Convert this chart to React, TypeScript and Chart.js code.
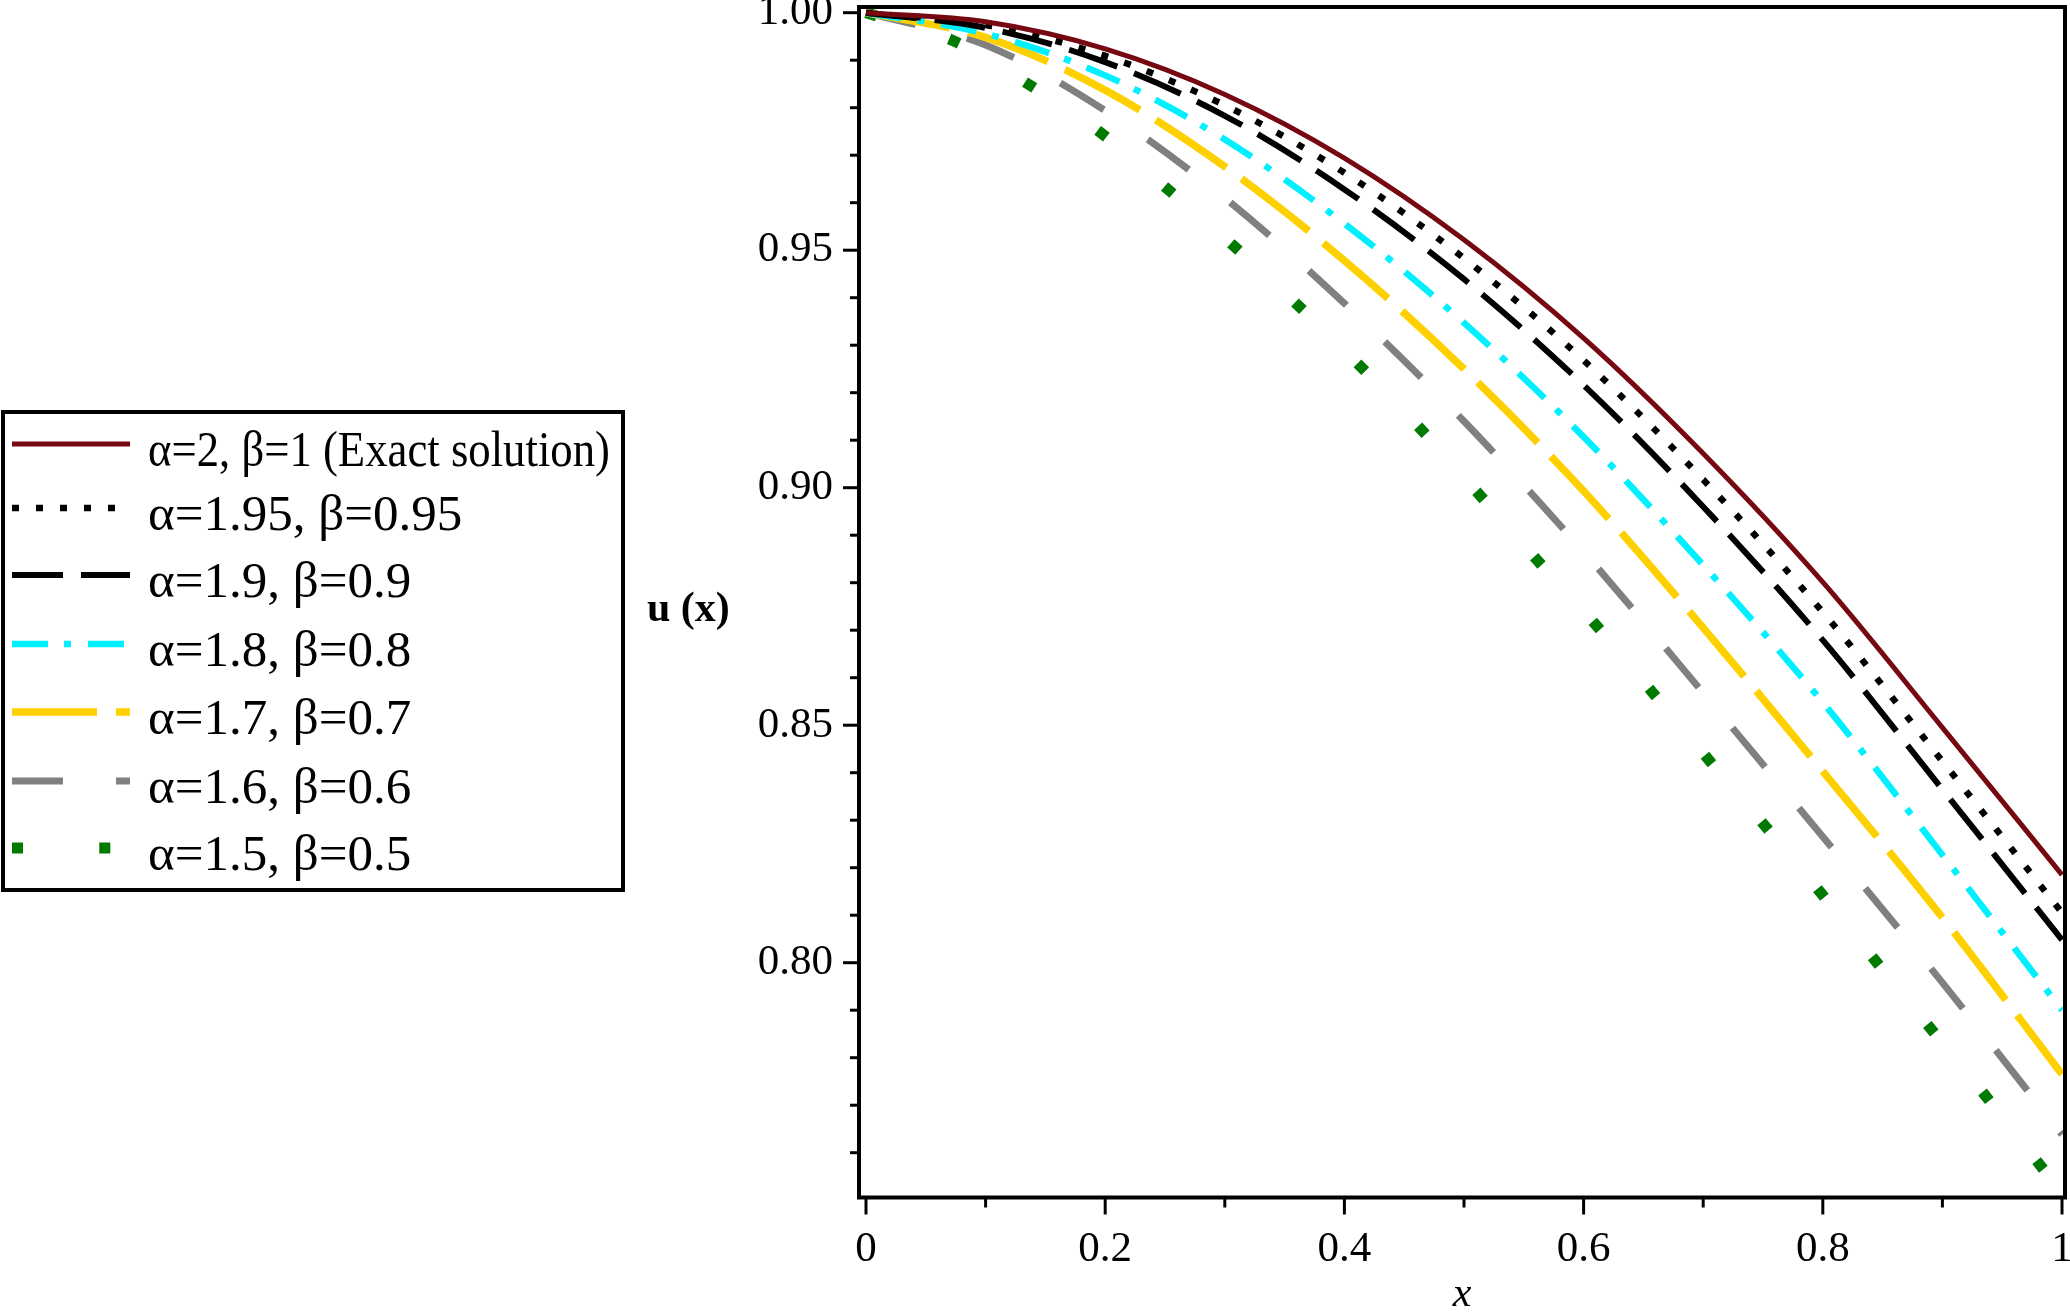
import React, { useEffect, useRef } from "react";
import { Chart, registerables } from "chart.js";

Chart.register(...registerables);

// ---- data ----
const xValues = [0, 0.1, 0.2, 0.3, 0.4, 0.5, 0.6, 0.7, 0.8, 0.9, 1.0];
const uExact = [1.0, 0.9981, 0.9924, 0.9828, 0.9694, 0.9522, 0.9315, 0.9072, 0.8801, 0.8495, 0.8185];
const u195 = [1.0, 0.9974, 0.9909, 0.9805, 0.9663, 0.9483, 0.9268, 0.9017, 0.8738, 0.8424, 0.8105];
const u190 = [1.0, 0.9968, 0.9896, 0.9783, 0.9628, 0.9439, 0.9216, 0.896, 0.8679, 0.8365, 0.8048];
const u180 = [1.0, 0.9956, 0.9868, 0.9733, 0.9556, 0.9347, 0.9107, 0.8837, 0.8548, 0.8227, 0.79];
const u170 = [1.0, 0.9948, 0.9837, 0.9676, 0.9478, 0.925, 0.8993, 0.8705, 0.8403, 0.8095, 0.7765];
const u160 = [1.0, 0.9932, 0.9794, 0.961, 0.9388, 0.914, 0.8865, 0.8568, 0.8265, 0.7958, 0.7638];
const xGreen = [0, 0.073, 0.138, 0.197, 0.252, 0.307, 0.362, 0.414, 0.464, 0.513, 0.561, 0.611, 0.658, 0.706, 0.753, 0.799, 0.845, 0.89, 0.936, 0.982, 1.0];
const u150 = [1.0, 0.9941, 0.9846, 0.9746, 0.9629, 0.951, 0.9382, 0.9254, 0.9123, 0.8985, 0.8848, 0.8709, 0.8568, 0.8423, 0.8284, 0.8145, 0.8001, 0.7862, 0.772, 0.7573, 0.7515];

const seriesLabels = [
  "α=2, β=1 (Exact solution)",
  "α=1.95, β=0.95",
  "α=1.9, β=0.9",
  "α=1.8, β=0.8",
  "α=1.7, β=0.7",
  "α=1.6, β=0.6",
  "α=1.5, β=0.5",
];
const seriesColors = ["#760812", "#000000", "#000000", "#00F0FF", "#FFD000", "#808080", "#007A00"];
const seriesDashes: number[][] = [[], [7, 17], [51, 18], [36, 16, 7, 17], [85, 19], [51, 53], [11, 76.3]];
const seriesWidths = [5, 6.5, 6, 6.5, 7.5, 7, 11];

const yMajorTicks = [0.8, 0.85, 0.9, 0.95, 1.0];
const xMajorTicks = [0, 0.2, 0.4, 0.6, 0.8, 1];

const yTitle = "u (x)";
const xTitle = "x";

const FONT = "'Liberation Serif', 'Times New Roman', serif";

const seriesY = [uExact, u195, u190, u180, u170, u160];

const mapleDecor = {
  id: "mapleDecor",
  afterDraw(chart: any) {
    const ctx = chart.ctx;
    const area = chart.chartArea;
    const xs = chart.scales.x;
    const ys = chart.scales.y;
    ctx.save();
    ctx.setLineDash([]);
    ctx.strokeStyle = "#000";
    // frame
    ctx.lineWidth = 4;
    ctx.strokeRect(area.left, area.top, area.right - area.left, area.bottom - area.top);
    // y ticks
    ctx.lineWidth = 3;
    for (let k = 76; k <= 100; k++) {
      const v = k / 100;
      const py = ys.getPixelForValue(v);
      const major = yMajorTicks.some((t) => Math.abs(t - v) < 1e-9);
      ctx.beginPath();
      ctx.moveTo(area.left, py);
      ctx.lineTo(area.left - (major ? 16 : 9), py);
      ctx.stroke();
    }
    // x ticks
    for (let k = 0; k <= 10; k++) {
      const v = k / 10;
      const px = xs.getPixelForValue(v);
      const major = xMajorTicks.some((t) => Math.abs(t - v) < 1e-9);
      ctx.beginPath();
      ctx.moveTo(px, area.bottom);
      ctx.lineTo(px, area.bottom + (major ? 17 : 10));
      ctx.stroke();
    }
    // axis titles
    ctx.fillStyle = "#000";
    ctx.font = "bold 42px " + FONT;
    ctx.textAlign = "left";
    ctx.textBaseline = "alphabetic";
    ctx.fillText(yTitle, 647, 621);
    ctx.font = "italic 42px " + FONT;
    ctx.textAlign = "center";
    ctx.fillText(xTitle, (area.left + area.right) / 2, 1306);

    // legend
    const rows = [444, 508, 575, 644, 712, 781, 848];
    ctx.lineWidth = 4;
    ctx.strokeStyle = "#000";
    ctx.strokeRect(3, 412, 620, 478);
    chart.data.datasets.forEach((ds: any, i: number) => {
      const y = rows[i];
      ctx.save();
      ctx.beginPath();
      ctx.rect(8, y - 20, 126, 40);
      ctx.clip();
      ctx.strokeStyle = ds.borderColor;
      ctx.lineWidth = ds.borderWidth;
      ctx.setLineDash(ds.borderDash || []);
      ctx.lineDashOffset = 0;
      ctx.lineCap = "butt";
      ctx.beginPath();
      ctx.moveTo(12, y);
      ctx.lineTo(130, y);
      ctx.stroke();
      ctx.restore();
      ctx.fillStyle = "#000";
      ctx.font = "51px " + FONT;
      ctx.textAlign = "left";
      ctx.textBaseline = "alphabetic";
      ctx.fillText(ds.label, 148, y + 22, 462);
    });
    ctx.restore();
  },
};

export default function App() {
  const ref = useRef<HTMLCanvasElement | null>(null);
  useEffect(() => {
    if (!ref.current) return;
    const datasets: any[] = seriesY.map((arr, i) => ({
      label: seriesLabels[i],
      data: xValues.map((x, j) => ({ x, y: arr[j] })),
      borderColor: seriesColors[i],
      borderDash: seriesDashes[i],
      borderWidth: seriesWidths[i],
      pointRadius: 0,
      fill: false,
      cubicInterpolationMode: "monotone",
    }));
    datasets.push({
      label: seriesLabels[6],
      data: xGreen.map((x, j) => ({ x, y: u150[j] })),
      borderColor: seriesColors[6],
      borderDash: seriesDashes[6],
      borderWidth: seriesWidths[6],
      pointRadius: 0,
      fill: false,
      cubicInterpolationMode: "monotone",
    });
    const chart = new Chart(ref.current, {
      type: "line",
      data: { datasets },
      options: {
        animation: false,
        responsive: false,
        maintainAspectRatio: false,
        devicePixelRatio: 1,
        layout: { padding: { top: 7, right: 5, left: 0, bottom: 0 } },
        plugins: { legend: { display: false }, tooltip: { enabled: false } },
        scales: {
          x: {
            type: "linear",
            min: -0.00585,
            max: 1.0025,
            grid: { display: false, drawTicks: false },
            border: { display: false },
            ticks: {
              stepSize: 0.2,
              includeBounds: false,
              autoSkip: false,
              maxRotation: 0,
              padding: 26,
              color: "#000",
              font: { family: FONT, size: 43 },
              callback: (v: any) => String(Number(Number(v).toFixed(1))),
            },
            afterFit: (s: any) => {
              s.height = 114.5;
              s.paddingLeft = 0;
              s.paddingRight = 0;
            },
          },
          y: {
            type: "linear",
            min: 0.75057,
            max: 1.0012,
            grid: { display: false, drawTicks: false },
            border: { display: false },
            ticks: {
              stepSize: 0.05,
              includeBounds: false,
              autoSkip: false,
              padding: 26,
              color: "#000",
              font: { family: FONT, size: 43 },
              callback: (v: any) => Number(v).toFixed(2),
            },
            afterFit: (s: any) => {
              s.width = 859;
              s.paddingTop = 0;
              s.paddingBottom = 0;
            },
          },
        },
      },
      plugins: [mapleDecor],
    });
    return () => chart.destroy();
  }, []);
  return (
    <canvas
      ref={ref}
      width={2070}
      height={1312}
      style={{ position: "fixed", left: 0, top: 0, width: 2070, height: 1312, background: "#fff" }}
    />
  );
}
